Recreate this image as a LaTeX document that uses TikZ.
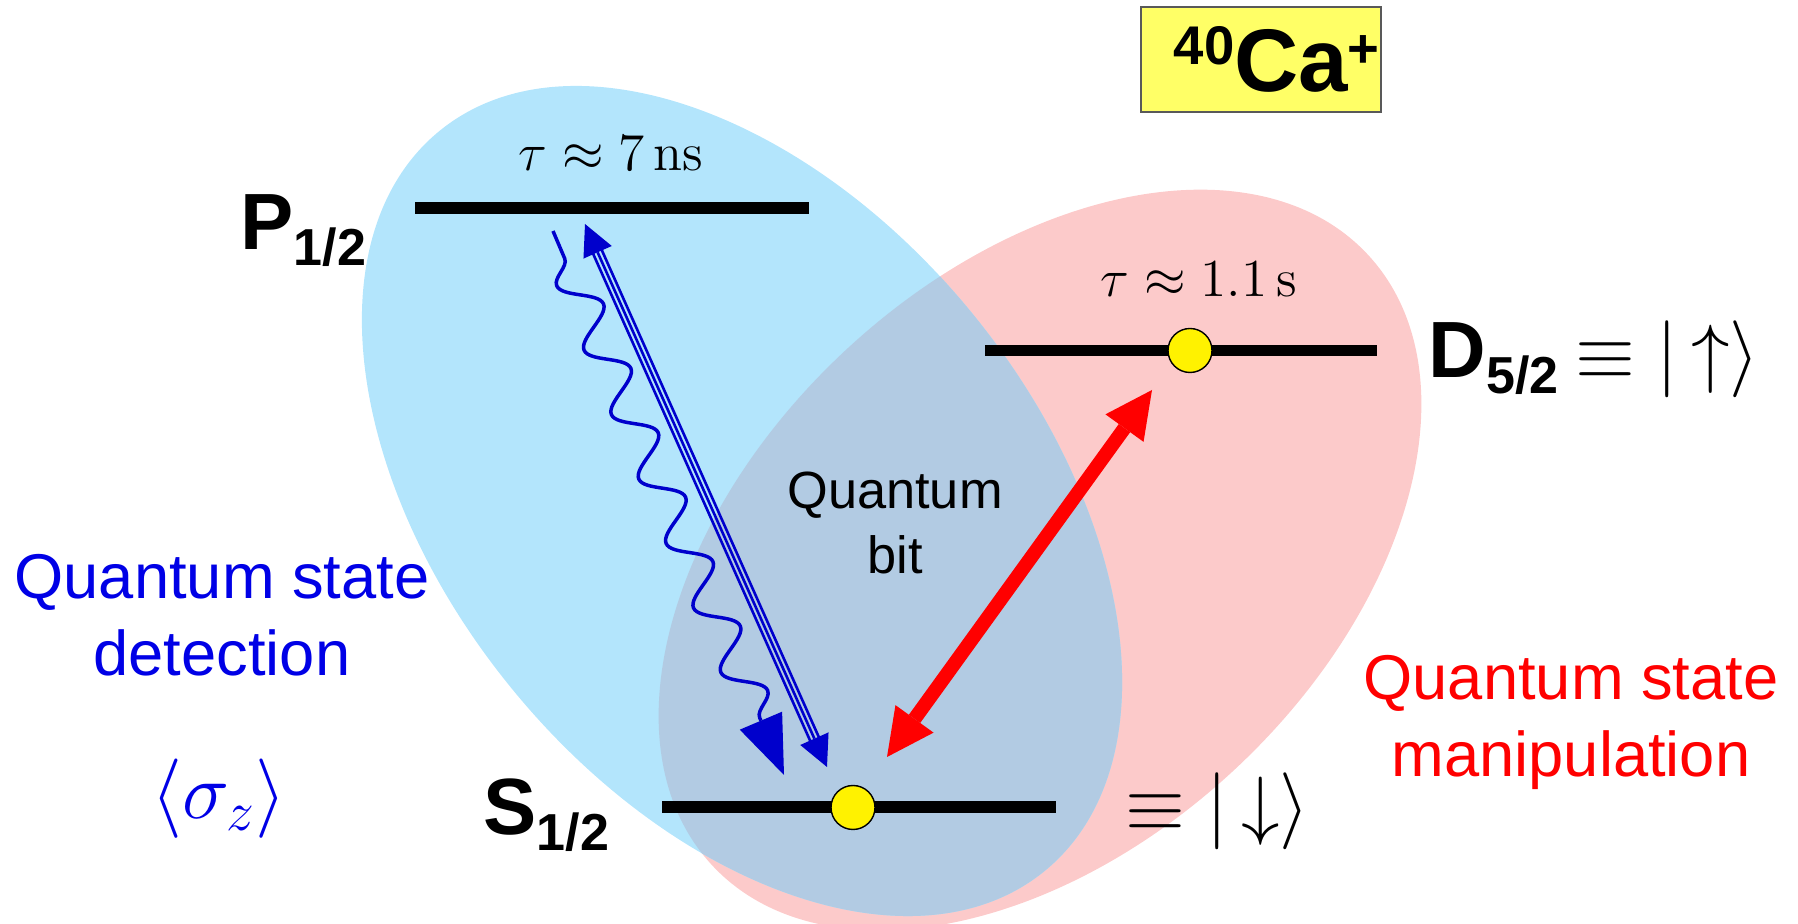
\documentclass[tikz,border=0pt]{standalone}
\usepackage{fix-cm}
\usepackage[no-math]{fontspec}
\newfontfamily\arialfont{Liberation Sans}
\usetikzlibrary{arrows.meta,calc,decorations.pathmorphing}
\definecolor{skyfill}{HTML}{B3E5FC}
\definecolor{rosefill}{HTML}{FCCACA}
\definecolor{mixfill}{HTML}{B2CBE3}
\definecolor{arrowblue}{HTML}{0000CC}
\definecolor{textblue}{HTML}{0000E6}
\definecolor{ionyellow}{HTML}{FFFF66}
\newcommand{\lvl}[2]{\textbf{#1}\raisebox{-0.16cm}{\fontsize{14.8pt}{15pt}\selectfont\textbf{#2}}}

\begin{document}
\begin{tikzpicture}[x=1cm,y=1cm,
  level/.style={line width=0.115cm},
  iondot/.style={circle,fill=yellow,draw=black,line width=0.4pt,minimum size=0.44cm,inner sep=0},
  lbl/.style={inner sep=0,anchor=base west,font=\arialfont\fontsize{22.7pt}{24pt}\selectfont},
  ket/.style={inner sep=0,anchor=base west,font=\fontsize{21.9pt}{24pt}\selectfont},
  life/.style={inner sep=0,anchor=base,font=\fontsize{15.2pt}{18pt}\selectfont},
  role/.style={inner sep=0,align=center,font=\arialfont\fontsize{18pt}{21.9pt}\selectfont},
  tri/.style={arrowblue,line width=0.026cm},
  bluehead/.tip={Triangle[length=3.1mm,width=3.1mm,line width=0pt]},
  redhead/.tip={Triangle[length=4.7mm,width=4.7mm,line width=0pt]}]
 \useasboundingbox (0,0) rectangle (17.98,9.24);
 % the two regions
 \fill[rosefill,rotate around={43:(10.40,3.64)}] (10.40,3.64) ellipse [x radius=4.48,y radius=2.86];
 \fill[skyfill,rotate around={-50.7:(7.42,4.23)}] (7.42,4.23) ellipse [x radius=4.78,y radius=2.97];
 \begin{scope}
  \clip[rotate around={43:(10.40,3.64)}] (10.40,3.64) ellipse [x radius=4.48,y radius=2.86];
  \fill[mixfill,rotate around={-50.7:(7.42,4.23)}] (7.42,4.23) ellipse [x radius=4.78,y radius=2.97];
 \end{scope}
 % levels
 \draw[level] (4.15,7.16)--(8.09,7.16);
 \draw[level] (9.85,5.735)--(13.77,5.735);
 \draw[level] (6.62,1.17)--(10.56,1.17);
 \node[iondot] (Dion) at (11.90,5.735) {};
 \node[iondot] (Sion) at (8.53,1.165) {};
 \node[life] (tauP) at (6.11,7.53) {$\tau\approx7\,\mathrm{ns}$};
 \node[life] (tauD) at (11.99,6.27) {$\tau\approx1.1\,\mathrm{s}$};
 \node[lbl] (Plab) at (2.40,6.74) {\lvl{P}{1/2}};
 \node[lbl] (Dlab) at (14.28,5.46) {\lvl{D}{5/2}};
 \node[lbl] (Slab) at (4.83,0.89) {\lvl{S}{1/2}};
 \node[ket] (upket) at (15.75,5.45) {$\equiv|\,{\uparrow}\rangle$};
 \node[ket] (dnket) at (11.25,0.93) {$\equiv|\,{\downarrow}\rangle$};
 % transitions
 \coordinate (Ptip) at (5.85,7.00); \coordinate (Stip) at (8.27,1.57);
 \draw[tri,{bluehead}-{bluehead}] (Ptip)--(Stip);
 \foreach \a/\b in {90/-90,-90/90}
  \draw[tri] ($(Ptip)!3mm!(Stip)!0.47mm!\a:(Stip)$)--($(Stip)!3mm!(Ptip)!0.47mm!\b:(Ptip)$);
 \coordinate (Pwave) at (5.53,6.93); \coordinate (Swave) at (7.84,1.49);
 \draw[arrowblue,line width=0.035cm,decorate,
   decoration={snake,mirror,amplitude=1.8mm,segment length=7mm,pre length=0.3cm,post length=0.6cm},
   -{Triangle[length=5.9mm,width=4.6mm,line width=0pt]}] (Pwave)--(Swave);
 \coordinate (Sred) at (8.87,1.67); \coordinate (Dred) at (11.52,5.34);
 \draw[red,line width=0.14cm,{redhead}-{redhead}] (Sred)--(Dred);
 % texts
 \node[inner sep=0,align=center,font=\arialfont\fontsize{14.9pt}{18.5pt}\selectfont] (qbit) at (8.95,4.015) {Quantum\\bit};
 \node[role,textblue] (detect) at (2.22,3.085) {Quantum state\\detection};
 \node[role,red] (manip) at (15.71,2.02) {Quantum state\\manipulation};
 \node[inner sep=0,textblue,font=\fontsize{22.6pt}{24pt}\selectfont] (sigz) at (2.19,1.25) {$\langle\sigma_z\rangle$};
 % ion
 \node[draw=black!65,fill=ionyellow,line width=0.6pt,minimum width=2.4cm,minimum height=1.044cm,inner sep=0] (ionbox) at (12.61,8.645) {};
 \node[anchor=base west,inner sep=0,font=\arialfont\bfseries] (ion) at (11.73,8.32)
  {\raisebox{0.27cm}{\fontsize{15.5pt}{16pt}\selectfont 40}\fontsize{25.3pt}{28pt}\selectfont Ca\raisebox{0.24cm}{\fontsize{15.5pt}{16pt}\selectfont +}};
\end{tikzpicture}
\end{document}
